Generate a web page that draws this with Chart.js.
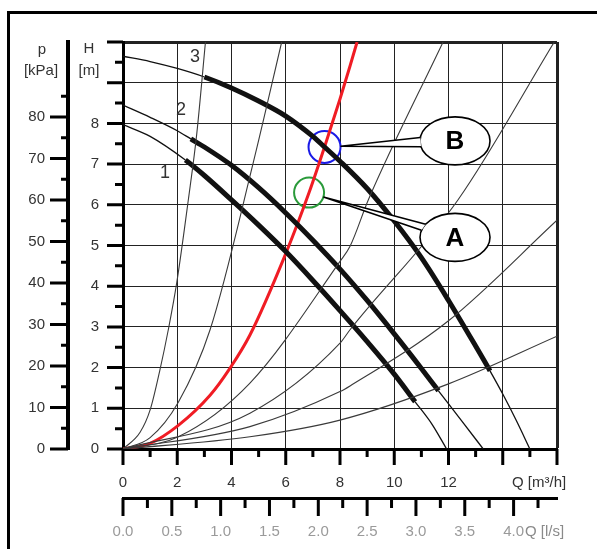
<!DOCTYPE html>
<html>
<head>
<meta charset="utf-8">
<script src="https://cdn.jsdelivr.net/npm/chart.js@4.4.1/dist/chart.umd.min.js"></script>
<style>
  html, body { margin: 0; padding: 0; background: #fff; }
  canvas { display: block; }
</style>
</head>
<body>
<canvas id="pumpChart" width="597" height="549"></canvas>
<script>
// Pump curves, Q in m³/h and H in m; thick part = recommended range
const pump1Q = [0, 1, 2.3, 3, 4, 5, 6, 7, 8, 9, 10, 10.77, 11.4, 11.93];
const pump1H = [7.97, 7.68, 7.1, 6.72, 6.12, 5.5, 4.85, 4.14, 3.4, 2.64, 1.84, 1.16, 0.6, 0];
const pump1Thick = [2.3, 10.77];

const pump2Q = [0, 1, 2, 2.5, 3, 4, 5, 6, 7, 8, 9, 10, 11, 11.63, 12.5, 13.28];
const pump2H = [8.45, 8.15, 7.82, 7.62, 7.42, 6.97, 6.42, 5.8, 5.13, 4.42, 3.65, 2.83, 1.98, 1.43, 0.68, 0];
const pump2Thick = [2.5, 11.63];

const pump3Q = [0, 1, 2, 3, 4, 5, 6, 7, 7.43, 8, 9, 10, 11, 12, 13, 13.53, 14, 14.5, 15];
const pump3H = [9.65, 9.52, 9.35, 9.14, 8.87, 8.55, 8.18, 7.68, 7.42, 7.07, 6.4, 5.6, 4.7, 3.65, 2.53, 1.92, 1.35, 0.7, 0];
const pump3Thick = [3, 13.53];

// System (pipe) curves
const systemRedQ = [0, 1, 2.04, 3.21, 3.94, 4.68, 6.03, 6.86, 7.43, 8.0, 8.37, 8.63];
const systemRedH = [0, 0.14, 0.58, 1.32, 1.98, 2.8, 4.85, 6.3, 7.42, 8.6, 9.41, 10];

const systemAQ = [0, 0.63, 1.0, 1.36, 1.67, 1.98, 2.41, 2.72, 3.04];
const systemAH = [0, 0.41, 0.96, 1.94, 2.93, 4.08, 6.13, 7.75, 10];
const systemBQ = [0, 1, 2.04, 3.21, 4.8, 5.85];
const systemBH = [0, 0.28, 1.15, 2.93, 7.03, 10];
const systemDQ = [0, 2.04, 4.68, 8, 8.37, 9.05, 11.8];
const systemDH = [0, 0.3, 1.62, 4.61, 4.98, 6.13, 10];
const systemEQ = [0, 4.68, 8, 8.37, 12.36, 15.9];
const systemEH = [0, 0.88, 2.6, 2.93, 6.13, 10];
const systemFQ = [0, 4.68, 8, 8.37, 12, 16];
const systemFH = [0, 0.55, 1.41, 1.55, 3.15, 5.62];
const systemGQ = [0, 4.68, 8, 12, 16];
const systemGH = [0, 0.3, 0.71, 1.6, 2.77];

// Marked operating points
const pointB = { x: 7.43, y: 7.42 };
const pointA = { x: 6.86, y: 6.3 };
const labelB = { x: 12.24, y: 7.57 };
const labelA = { x: 12.24, y: 5.2 };

// Axis ticks and labels
const qTickValues = [0, 2, 4, 6, 8, 10, 12, 14, 16];
const qLabels = ['0', '2', '4', '6', '8', '10', '12', '', ''];
const hTickValues = [0, 1, 2, 3, 4, 5, 6, 7, 8, 9, 10];
const hLabels = ['0', '1', '2', '3', '4', '5', '6', '7', '8', '', ''];
const pTickValues = [0, 10, 20, 30, 40, 50, 60, 70, 80];
const pLabels = ['0', '10', '20', '30', '40', '50', '60', '70', '80'];
const lsTickValues = [0, 0.5, 1, 1.5, 2, 2.5, 3, 3.5, 4];
const lsLabels = ['0.0', '0.5', '1.0', '1.5', '2.0', '2.5', '3.0', '3.5', '4.0'];

const FONT = "'Liberation Sans', Arial, sans-serif";

function toPoints(qs, hs) {
  return qs.map((q, i) => ({ x: q, y: hs[i] }));
}

function thinLine(qs, hs) {
  return {
    data: toPoints(qs, hs),
    showLine: true,
    borderColor: '#3a3a3a',
    borderWidth: 1.1,
    pointRadius: 0,
    cubicInterpolationMode: 'monotone',
    clip: 0
  };
}

function pumpLine(qs, hs, thick) {
  return {
    data: toPoints(qs, hs),
    showLine: true,
    borderColor: '#111',
    borderWidth: 1.3,
    pointRadius: 0,
    cubicInterpolationMode: 'monotone',
    clip: 0,
    segment: {
      borderWidth: c => (c.p0.parsed.x >= thick[0] - 1e-6 && c.p1.parsed.x <= thick[1] + 1e-6) ? 5 : 1.3
    }
  };
}

function marker(pt, color, r) {
  return {
    data: [pt],
    showLine: false,
    pointRadius: r,
    pointBorderWidth: 2,
    pointBorderColor: color,
    pointBackgroundColor: 'rgba(0,0,0,0)',
    clip: false
  };
}

function drawTicks(ctx, values, pos, isMajor, majorLen, minorLen, horizontal, base) {
  ctx.save();
  ctx.strokeStyle = '#000';
  ctx.lineWidth = 3;
  ctx.beginPath();
  values.forEach(v => {
    const p = pos(v);
    const len = isMajor(v) ? majorLen : minorLen;
    if (horizontal) {
      ctx.moveTo(p, base);
      ctx.lineTo(p, base + len);
    } else {
      ctx.moveTo(base - len, p);
      ctx.lineTo(base, p);
    }
  });
  ctx.stroke();
  ctx.restore();
}

function range(from, to, step) {
  const out = [];
  for (let v = from; v <= to + 1e-9; v += step) out.push(Math.round(v * 100) / 100);
  return out;
}

function drawCallout(ctx, chart, center, circleR, label, text, angles) {
  const { x, y } = chart.scales;
  const cx = x.getPixelForValue(center.x), cy = y.getPixelForValue(center.y);
  const lx = x.getPixelForValue(label.x), ly = y.getPixelForValue(label.y);
  const rx = 35, ry = 24;
  const dx = lx - cx, dy = ly - cy, d = Math.hypot(dx, dy);
  const tip = [cx + dx / d * circleR, cy + dy / d * circleR];
  const a1 = [lx + rx * Math.cos(angles[0] * Math.PI / 180), ly + ry * Math.sin(angles[0] * Math.PI / 180)];
  const a2 = [lx + rx * Math.cos(angles[1] * Math.PI / 180), ly + ry * Math.sin(angles[1] * Math.PI / 180)];

  ctx.save();
  ctx.lineWidth = 1.6;
  ctx.strokeStyle = '#000';
  ctx.fillStyle = '#fff';
  ctx.beginPath();
  ctx.ellipse(lx, ly, rx, ry, 0, 0, Math.PI * 2);
  ctx.fill();
  ctx.stroke();
  // tail
  ctx.beginPath();
  ctx.moveTo(tip[0], tip[1]);
  ctx.lineTo(a1[0], a1[1]);
  ctx.lineTo(a2[0], a2[1]);
  ctx.closePath();
  ctx.fill();
  ctx.beginPath();
  ctx.moveTo(a1[0], a1[1]);
  ctx.lineTo(tip[0], tip[1]);
  ctx.lineTo(a2[0], a2[1]);
  ctx.stroke();
  ctx.fillStyle = '#000';
  ctx.font = 'bold 26px ' + FONT;
  ctx.textAlign = 'center';
  ctx.textBaseline = 'middle';
  ctx.fillText(text, lx, ly + 1);
  ctx.restore();
}

const decorations = {
  id: 'decorations',
  beforeDraw(chart) {
    const ctx = chart.ctx;
    ctx.save();
    ctx.fillStyle = '#fff';
    ctx.fillRect(0, 0, chart.width, chart.height);
    ctx.restore();
  },
  afterDatasetsDraw(chart) {
    const ctx = chart.ctx;
    const { x, y } = chart.scales;
    // curve numbers
    ctx.save();
    ctx.fillStyle = '#333';
    ctx.font = '18px ' + FONT;
    ctx.textAlign = 'center';
    ctx.textBaseline = 'middle';
    [['3', 2.65, 9.62], ['2', 2.14, 8.34], ['1', 1.55, 6.79]].forEach(([t, q, h]) => {
      ctx.fillText(t, x.getPixelForValue(q), y.getPixelForValue(h));
    });
    ctx.restore();
    drawCallout(ctx, chart, pointB, 16, labelB, 'B', [166, 188]);
    drawCallout(ctx, chart, pointA, 15, labelA, 'A', [197, 213]);
  },
  afterDraw(chart) {
    const ctx = chart.ctx;
    const { x, y, p, ls } = chart.scales;

    // outer frame
    ctx.save();
    ctx.fillStyle = '#000';
    ctx.fillRect(8, 11, chart.width - 8, 3);
    ctx.fillRect(7, 11, 3, chart.height - 11);
    ctx.restore();

    // tick marks with minor divisions
    drawTicks(ctx, range(0, 10, 0.5), v => y.getPixelForValue(v), v => v % 1 === 0, 16, 8, false, y.right);
    drawTicks(ctx, range(0, 85, 5), v => p.getPixelForValue(v), v => v % 10 === 0, 18, 7, false, p.right);
    drawTicks(ctx, range(0, 16, 1), v => x.getPixelForValue(v), v => v % 2 === 0, 16, 8, true, x.top);
    drawTicks(ctx, range(0, 4.25, 0.25), v => ls.getPixelForValue(v), v => (v * 2) % 1 === 0, 18, 10, true, ls.top);

    // axis titles
    ctx.save();
    ctx.fillStyle = '#333';
    ctx.font = '15px ' + FONT;
    ctx.textBaseline = 'middle';
    ctx.textAlign = 'center';
    ctx.fillText('p', 42, 50);
    ctx.fillText('[kPa]', 41, 71);
    ctx.fillText('H', 89, 49);
    ctx.fillText('[m]', 89, 71);
    ctx.textAlign = 'left';
    ctx.fillText('Q [m³/h]', 512, 483);
    ctx.fillStyle = '#8a8a8a';
    ctx.fillText('Q [l/s]', 525, 532);
    ctx.restore();
  }
};

const tickFont = { family: FONT, size: 15 };

new Chart(document.getElementById('pumpChart'), {
  type: 'scatter',
  data: {
    datasets: [
      thinLine(systemAQ, systemAH),
      thinLine(systemBQ, systemBH),
      thinLine(systemDQ, systemDH),
      thinLine(systemEQ, systemEH),
      thinLine(systemFQ, systemFH),
      thinLine(systemGQ, systemGH),
      pumpLine(pump1Q, pump1H, pump1Thick),
      pumpLine(pump2Q, pump2H, pump2Thick),
      pumpLine(pump3Q, pump3H, pump3Thick),
      {
        data: toPoints(systemRedQ, systemRedH),
        showLine: true,
        borderColor: '#f01c24',
        borderWidth: 3,
        pointRadius: 0,
        cubicInterpolationMode: 'monotone',
        clip: 0
      },
      marker(pointB, '#1a1ae6', 16),
      marker(pointA, '#2a9a3a', 15)
    ]
  },
  options: {
    responsive: false,
    devicePixelRatio: 1,
    animation: false,
    events: [],
    layout: { padding: { top: 42, right: 40, bottom: 0, left: 10 } },
    plugins: { legend: { display: false }, tooltip: { enabled: false } },
    scales: {
      x: {
        type: 'linear', position: 'bottom', min: 0, max: 16,
        afterBuildTicks: s => { s.ticks = qTickValues.map(v => ({ value: v })); },
        afterFit: s => { s.height = 49; },
        grid: { color: '#222', lineWidth: c => (c.tick && c.tick.value === 16 ? 3 : 1), drawTicks: false },
        border: { display: true, color: '#000', width: 3 },
        ticks: { autoSkip: false, maxRotation: 0, padding: 25, color: '#333', font: tickFont,
          callback: (v, i) => qLabels[i] }
      },
      ls: {
        type: 'linear', position: 'bottom', weight: 1, min: 0, max: 16 / 3.6,
        afterBuildTicks: s => { s.ticks = lsTickValues.map(v => ({ value: v })); },
        afterFit: s => { s.height = 51; },
        grid: { display: false, drawTicks: false, drawOnChartArea: false },
        border: { display: true, color: '#000', width: 3 },
        ticks: { autoSkip: false, maxRotation: 0, padding: 25, color: '#9a9a9a', font: tickFont,
          callback: (v, i) => lsLabels[i] }
      },
      y: {
        type: 'linear', position: 'left', min: 0, max: 10,
        afterBuildTicks: s => { s.ticks = hTickValues.map(v => ({ value: v })); },
        afterFit: s => { s.width = 55; },
        grid: { color: '#222', lineWidth: c => (c.tick && c.tick.value === 10 ? 3 : 1), drawTicks: false },
        border: { display: true, color: '#000', width: 3 },
        ticks: { autoSkip: false, padding: 24, color: '#333', font: tickFont,
          callback: (v, i) => hLabels[i] }
      },
      p: {
        type: 'linear', position: 'left', weight: 1, min: 0, max: 98.07,
        afterBuildTicks: s => { s.ticks = pTickValues.map(v => ({ value: v })); },
        afterFit: s => { s.width = 58; },
        grid: { display: false, drawTicks: false, drawOnChartArea: false },
        border: { display: true, color: '#000', width: 4 },
        ticks: { autoSkip: false, padding: 23, color: '#333', font: tickFont,
          callback: (v, i) => pLabels[i] }
      }
    }
  },
  plugins: [decorations]
});
</script>
</body>
</html>
